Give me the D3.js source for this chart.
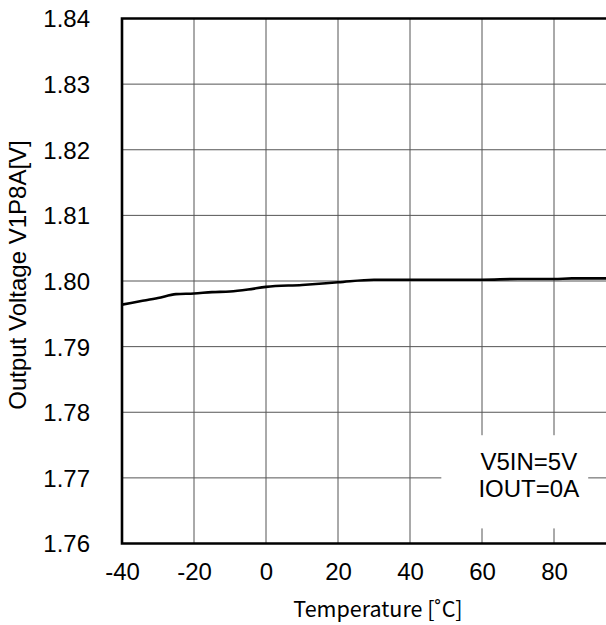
<!DOCTYPE html>
<html>
<head>
<meta charset="utf-8">
<script src="https://cdn.jsdelivr.net/npm/d3@7"></script>
<style>
  body { margin: 0; background: #fff; }
  svg { display: block; }
</style>
</head>
<body>
<svg width="606" height="625"></svg>
<script>
// Données
const temps = [-40, -35, -30, -25, -20, -15, -10, -5, 0, 10, 20, 30, 40, 50, 60, 70, 80, 85, 95];
const vout  = [1.7964, 1.7969, 1.7974, 1.7980, 1.7981, 1.7983, 1.7984, 1.7987, 1.7991, 1.7994, 1.7998,
               1.8002, 1.8002, 1.8002, 1.8002, 1.8003, 1.8003, 1.8004, 1.8004];
const xTicks = [-40, -20, 0, 20, 40, 60, 80];
const yTicks = [1.76, 1.77, 1.78, 1.79, 1.80, 1.81, 1.82, 1.83, 1.84];
const noteLines = ["V5IN=5V", "IOUT=0A"];

const svg = d3.select("svg"),
      margin = { top: 18.5, left: 122, bottom: 543.5, right: 608 };

const x = d3.scaleLinear().domain([-40, 95]).range([margin.left, margin.right]);
const y = d3.scaleLinear().domain([1.76, 1.84]).range([margin.bottom, margin.top]);

const font = "Liberation Sans, Arial, sans-serif";

// Grille
svg.append("g")
    .selectAll("line")
    .data(xTicks.slice(1))
    .join("line")
    .attr("x1", d => x(d)).attr("x2", d => x(d))
    .attr("y1", margin.top).attr("y2", margin.bottom)
    .attr("stroke", "#555").attr("stroke-width", 1);

svg.append("g")
    .selectAll("line")
    .data(yTicks.slice(1, -1))
    .join("line")
    .attr("x1", margin.left).attr("x2", margin.right)
    .attr("y1", d => y(d)).attr("y2", d => y(d))
    .attr("stroke", "#555").attr("stroke-width", 1);

// Boîte de l'annotation (fond blanc sur la grille)
svg.append("rect")
    .attr("x", x(48.7)).attr("y", y(1.7765))
    .attr("width", x(89.5) - x(48.7))
    .attr("height", y(1.7623) - y(1.7765))
    .attr("fill", "#fff");

svg.append("g")
    .selectAll("text")
    .data(noteLines)
    .join("text")
    .attr("x", x(73))
    .attr("y", (d, i) => 470 + i * 26.5)
    .attr("text-anchor", "middle")
    .attr("font-family", font)
    .attr("font-size", 24)
    .text(d => d);

// Courbe
const line = d3.line()
    .x(d => x(d[0]))
    .y(d => y(d[1]))
    .curve(d3.curveMonotoneX);

svg.append("path")
    .datum(temps.map((t, i) => [t, vout[i]]))
    .attr("fill", "none")
    .attr("stroke", "#000")
    .attr("stroke-width", 2.6)
    .attr("d", line);

// Cadre
svg.append("path")
    .attr("d", `M${margin.right},${margin.top}H${margin.left}V${margin.bottom}H${margin.right}`)
    .attr("fill", "none")
    .attr("stroke", "#000")
    .attr("stroke-width", 2.6);

// Axes
const xAxis = svg.append("g")
    .attr("transform", `translate(0,${margin.bottom})`)
    .call(d3.axisBottom(x).tickValues(xTicks).tickFormat(d => String(d)).tickSize(0).tickPadding(0));
xAxis.select(".domain").remove();
xAxis.selectAll("text")
    .attr("y", 36.5).attr("dy", null)
    .attr("font-family", font).attr("font-size", 24).attr("fill", "#000");

const yAxis = svg.append("g")
    .attr("transform", `translate(${margin.left},0)`)
    .call(d3.axisLeft(y).tickValues(yTicks).tickFormat(d3.format(".2f")).tickSize(0).tickPadding(0));
yAxis.select(".domain").remove();
yAxis.selectAll("text")
    .attr("x", -32).attr("dy", "0.35em")
    .attr("font-family", font).attr("font-size", 24).attr("fill", "#000");

// Titres
svg.append("text")
    .attr("x", 378).attr("y", 617)
    .attr("text-anchor", "middle")
    .attr("font-family", "Noto Sans CJK JP, sans-serif")
    .attr("font-size", 21.5)
    .text("Temperature [˚C]");

svg.append("text")
    .attr("transform", "translate(26,275) rotate(-90)")
    .attr("text-anchor", "middle")
    .attr("font-family", font)
    .attr("font-size", 24)
    .text("Output Voltage V1P8A[V]");
</script>
</body>
</html>
